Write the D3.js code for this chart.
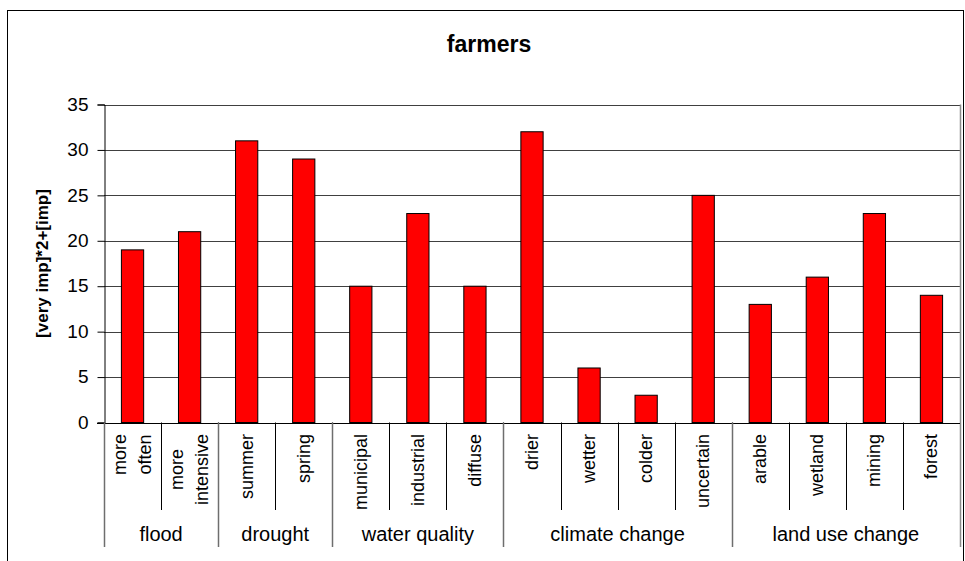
<!DOCTYPE html>
<html>
<head>
<meta charset="utf-8">
<script src="https://cdn.jsdelivr.net/npm/d3@7"></script>
<style>
  html, body { margin: 0; padding: 0; background: #fff; }
  svg { display: block; font-family: "Liberation Sans", Arial, sans-serif; }
</style>
</head>
<body>
<svg id="chart" width="965" height="561"></svg>
<script>
// Category labels (line breaks split multi-line labels)
const categories = [
  "more\noften", "more\nintensive",
  "summer", "spring",
  "municipal", "industrial", "diffuse",
  "drier", "wetter", "colder", "uncertain",
  "arable", "wetland", "mining", "forest"
];
const groups = ["flood", "drought", "water quality", "climate change", "land use change"];
const groupSizes = [2, 2, 3, 4, 4];
const values = [19, 21, 31, 29, 15, 23, 15, 32, 6, 3, 25, 13, 16, 23, 14];
const yTicks = [0, 5, 10, 15, 20, 25, 30, 35];
const chartTitle = "farmers";
const yTitle = "[very imp]*2+[imp]";

const svg = d3.select("#chart");

// Plot area
const plotLeft = 104, plotRight = 960, plotTop = 104.5, plotBottom = 422.5;
const catBottom = 510, groupBottom = 547;

const idx = categories.map((d, i) => i);
const xCat = d3.scaleBand().domain(idx).range([plotLeft, plotRight]).padding(0);
const xBar = d3.scaleBand().domain(idx).range([plotLeft, plotRight])
  .paddingInner(0.61).paddingOuter(0.305);
const y = d3.scaleLinear().domain([0, 35]).range([plotBottom, plotTop]);

// Outer chart frame
svg.append("rect")
  .attr("x", 7.5).attr("y", 10.5)
  .attr("width", 956).attr("height", 600)
  .attr("fill", "none").attr("stroke", "#000").attr("stroke-width", 1);

// Title
svg.append("text")
  .attr("x", 489).attr("y", 52)
  .attr("text-anchor", "middle")
  .attr("font-size", 23).attr("font-weight", "bold")
  .text(chartTitle);

// Horizontal gridlines
svg.append("g").selectAll("line")
  .data(yTicks.filter(t => t > 0))
  .join("line")
  .attr("x1", plotLeft).attr("x2", plotRight)
  .attr("y1", d => Math.round(y(d)) + 0.5).attr("y2", d => Math.round(y(d)) + 0.5)
  .attr("stroke", "#404040").attr("stroke-width", 1);

// Right edge of plot area, continuing down as the last group divider
svg.append("line")
  .attr("x1", plotRight + 0.5).attr("x2", plotRight + 0.5)
  .attr("y1", plotTop).attr("y2", groupBottom)
  .attr("stroke", "#8c8c8c").attr("stroke-width", 1.5);

// Bars
svg.append("g").selectAll("rect")
  .data(values)
  .join("rect")
  .attr("x", (d, i) => xBar(i))
  .attr("y", d => y(d))
  .attr("width", xBar.bandwidth())
  .attr("height", d => y(0) - y(d))
  .attr("fill", "#ff0000")
  .attr("stroke", "#000").attr("stroke-width", 1);

// Y axis
const yAxis = d3.axisLeft(y).tickValues(yTicks).tickSize(7).tickPadding(9);
const gy = svg.append("g")
  .attr("transform", `translate(${plotLeft + 0.5},0)`)
  .call(yAxis);
gy.select(".domain").attr("stroke", "#000");
gy.selectAll(".tick line").attr("stroke", "#000");
gy.selectAll(".tick text")
  .attr("font-size", 19)
  .attr("font-family", "Liberation Sans, Arial, sans-serif")
  .attr("fill", "#000")
  .attr("dy", "0.3em");

// X axis baseline
svg.append("line")
  .attr("x1", plotLeft - 7).attr("x2", plotRight)
  .attr("y1", Math.round(plotBottom) + 0.5).attr("y2", Math.round(plotBottom) + 0.5)
  .attr("stroke", "#000");

// Category dividers below the axis
const catEdges = idx.slice(1).map(i => xCat(i));
svg.append("g").selectAll("line")
  .data(catEdges)
  .join("line")
  .attr("x1", d => Math.round(d) + 0.5).attr("x2", d => Math.round(d) + 0.5)
  .attr("y1", plotBottom).attr("y2", catBottom)
  .attr("stroke", "#000");

// Group dividers
let acc = 0;
const groupStarts = groupSizes.map(n => { const s = acc; acc += n; return s; });
const groupEdges = groupStarts.map(i => xCat(i));
svg.append("g").selectAll("line")
  .data(groupEdges)
  .join("line")
  .attr("x1", d => Math.round(d) + 0.5).attr("x2", d => Math.round(d) + 0.5)
  .attr("y1", plotBottom).attr("y2", groupBottom)
  .attr("stroke", "#6e6e6e").attr("stroke-width", 1.5);

// Rotated category labels, top-aligned block with centred lines
const catLabelTop = 434;
const lineGap = 25;
const catG = svg.append("g").attr("font-size", 18);
categories.forEach((label, i) => {
  const lines = label.split("\n");
  const cx = xCat(i) + xCat.bandwidth() / 2;
  const texts = lines.map(l => catG.append("text").attr("text-anchor", "middle").text(l));
  const maxLen = d3.max(texts, t => t.node().getComputedTextLength());
  const cy = catLabelTop + maxLen / 2;
  texts.forEach((t, k) => {
    const off = (k - (lines.length - 1) / 2) * lineGap;
    t.attr("transform", `translate(${cx + off + 6},${cy}) rotate(-90)`);
  });
});

// Group labels
svg.append("g").selectAll("text")
  .data(groups)
  .join("text")
  .attr("x", (d, i) => (xCat(groupStarts[i]) + xCat(groupStarts[i] + groupSizes[i] - 1) + xCat.bandwidth()) / 2)
  .attr("y", 541)
  .attr("text-anchor", "middle")
  .attr("font-size", 20)
  .text(d => d);

// Y axis title
svg.append("text")
  .attr("transform", `translate(48,${(plotTop + plotBottom) / 2}) rotate(-90)`)
  .attr("text-anchor", "middle")
  .attr("font-size", 17).attr("font-weight", "bold")
  .text(yTitle);
</script>
</body>
</html>
